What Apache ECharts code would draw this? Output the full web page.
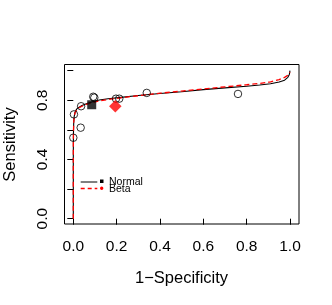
<!DOCTYPE html>
<html><head><meta charset="utf-8">
<script src="https://cdn.jsdelivr.net/npm/echarts@6/dist/echarts.min.js"></script>
<style>html,body{margin:0;padding:0;background:#fff}#c{width:332px;height:305px}</style>
</head><body><div id="c"></div>
<script>
// Tick labels
var xTicks = [0, 0.2, 0.4, 0.6, 0.8, 1.0];
var yTicks = [0, 0.4, 0.8];
// Individual studies (1-Specificity, Sensitivity)
var studyX = [0.0, 0.003, 0.034, 0.036, 0.092, 0.097, 0.197, 0.212, 0.339, 0.760];
var studyY = [0.547, 0.705, 0.615, 0.760, 0.824, 0.818, 0.811, 0.811, 0.850, 0.843];
// Summary points
var normalSummary = [0.085, 0.770];
var betaSummary = [0.194, 0.759];
// SROC curve, Normal model
var normalX = [0, 0, 0.0003, 0.001, 0.002, 0.004, 0.008, 0.015, 0.025, 0.04, 0.06, 0.085, 0.12, 0.16, 0.22, 0.3, 0.4, 0.5, 0.6, 0.7, 0.8, 0.86, 0.91, 0.95, 0.975, 0.99, 0.997, 1.0];
var normalY = [0, 0.4, 0.52, 0.6, 0.65, 0.69, 0.72, 0.74, 0.752, 0.765, 0.777, 0.789, 0.802, 0.81, 0.82, 0.832, 0.846, 0.858, 0.872, 0.884, 0.895, 0.903, 0.912, 0.924, 0.936, 0.955, 0.975, 1.0];
// SROC curve, Beta model
var betaX = [0, 0, 0.0003, 0.001, 0.002, 0.004, 0.008, 0.015, 0.025, 0.04, 0.06, 0.085, 0.12, 0.16, 0.22, 0.3, 0.4, 0.5, 0.6, 0.7, 0.8, 0.86, 0.91, 0.95, 0.975, 0.99, 1.0];
var betaY = [0, 0.4, 0.52, 0.6, 0.65, 0.69, 0.715, 0.735, 0.748, 0.76, 0.772, 0.783, 0.796, 0.805, 0.817, 0.831, 0.848, 0.862, 0.877, 0.891, 0.905, 0.914, 0.924, 0.94, 0.955, 0.97, 0.99];

function zip(a, b) { return a.map(function (v, i) { return [v, b[i]]; }); }

var FONT = '"Liberation Sans", Arial, sans-serif';
var chart = echarts.init(document.getElementById('c'), null, {renderer: 'canvas'});
chart.setOption({
  animation: false,
  backgroundColor: '#fff',
  grid: {left: 73.3, right: 42, top: 70.7, bottom: 86.3},
  xAxis: {
    type: 'value', min: 0, max: 1, interval: 0.2, offset: 5.5,
    axisLine: {show: false},
    axisTick: {show: true, length: 6, lineStyle: {color: '#000', width: 1}},
    splitLine: {show: false},
    axisLabel: {
      margin: 15, color: '#000', fontFamily: FONT, fontSize: 15.5,
      formatter: function (v) { return xTicks.indexOf(+v.toFixed(1)) >= 0 ? v.toFixed(1) : ''; }
    }
  },
  yAxis: {
    type: 'value', min: 0, max: 1, interval: 0.2, offset: 9.3,
    axisLine: {show: false},
    axisTick: {show: true, length: 6, lineStyle: {color: '#000', width: 1}},
    splitLine: {show: false},
    axisLabel: {
      margin: 13, rotate: 90, color: '#000', fontFamily: FONT, fontSize: 15.5,
      formatter: function (v) { return yTicks.indexOf(+v.toFixed(1)) >= 0 ? v.toFixed(1) : ''; }
    }
  },
  graphic: [
    {type: 'rect', shape: {x: 64.5, y: 64.5, width: 234.5, height: 159.5}, style: {fill: 'none', stroke: '#000', lineWidth: 1}, z: 10},
    {type: 'text', x: 181.5, y: 278, style: {text: '1\u2212Specificity', font: '16.5px ' + FONT, fill: '#000', textAlign: 'center', textVerticalAlign: 'middle'}},
    {type: 'text', x: 10.5, y: 144.5, rotation: Math.PI / 2, style: {text: 'Sensitivity', font: '16.5px ' + FONT, fill: '#000', textAlign: 'center', textVerticalAlign: 'middle'}},
    {type: 'line', shape: {x1: 80.7, y1: 182, x2: 97.3, y2: 182}, style: {stroke: '#000', lineWidth: 1}},
    {type: 'rect', shape: {x: 100, y: 179.5, width: 3.5, height: 3.5}, style: {fill: '#000'}},
    {type: 'line', shape: {x1: 80.7, y1: 188.5, x2: 97.3, y2: 188.5}, style: {stroke: '#f00', lineWidth: 1.3, lineDash: [4, 3]}},
    {type: 'circle', shape: {cx: 101.7, cy: 188.3, r: 1.7}, style: {fill: '#f00'}},
    {type: 'text', x: 109, y: 181.7, style: {text: 'Normal', font: '10.5px ' + FONT, fill: '#000', textVerticalAlign: 'middle'}},
    {type: 'text', x: 109, y: 189, style: {text: 'Beta', font: '10.5px ' + FONT, fill: '#000', textVerticalAlign: 'middle'}}
  ],
  series: [
    {type: 'line', data: zip(normalX, normalY), showSymbol: false, clip: false, smooth: false,
     lineStyle: {color: '#000', width: 1.1}, z: 2},
    {type: 'line', data: zip(betaX, betaY), showSymbol: false, clip: false, smooth: false,
     lineStyle: {color: '#f00', width: 1.3, type: [5, 3]}, z: 3},
    {type: 'scatter', data: zip(studyX, studyY), symbol: 'circle', symbolSize: 7.5, clip: false,
     itemStyle: {color: 'rgba(0,0,0,0)', borderColor: '#000', borderWidth: 1}, z: 4},
    {type: 'scatter', data: [normalSummary], symbol: 'rect', symbolSize: 9,
     itemStyle: {color: '#000'}, z: 5},
    {type: 'scatter', data: [betaSummary], symbol: 'diamond', symbolSize: [12.5, 12.5],
     itemStyle: {color: '#f00'}, z: 5}
  ]
});
</script>
</body></html>
